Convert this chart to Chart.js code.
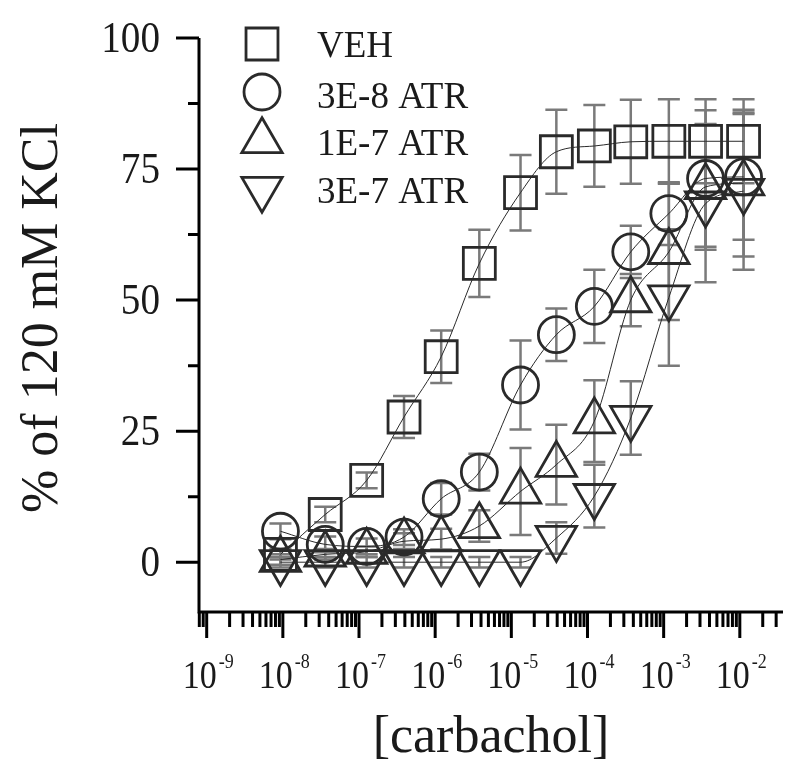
<!DOCTYPE html>
<html>
<head>
<meta charset="utf-8">
<script src="https://cdn.jsdelivr.net/npm/chart.js@4.4.1/dist/chart.umd.min.js"></script>
<style>
  html, body { margin: 0; padding: 0; background: #fff; overflow: hidden; }
  canvas { display: block; }
</style>
</head>
<body>
<canvas id="chart" width="800" height="784"></canvas>
<script>
// carbachol concentrations (M)
const conc = [9.3e-9, 3.6e-8, 1.26e-7, 3.9e-7, 1.2e-6, 3.8e-6, 1.32e-5, 3.9e-5, 1.23e-4, 3.7e-4, 1.17e-3, 3.55e-3, 1.12e-2];

const seriesNames = ['VEH', '3E-8 ATR', '1E-7 ATR', '3E-7 ATR'];

const vehVals   = [1.5, 9.1, 15.6, 27.7, 39.2, 57.0, 70.5, 78.3, 79.4, 80.2, 80.3, 80.3, 80.3];
const atr3e8    = [5.9, 3.4, 3.0, 4.8, 12.1, 17.2, 33.8, 43.4, 48.8, 59.2, 66.5, 73.2, 73.5];
const atr1e7    = [0.5, 1.5, 2.0, 4.0, 4.4, 6.9, 13.5, 18.6, 26.9, 50.0, 59.2, 71.6, 72.3];
const atr3e7    = [0, 0, 0, 0, 0, 0, 0, 4.6, 12.6, 27.5, 50.5, 68.4, 70.8];

const vehErr    = [1, 1.5, 1.5, 4, 5, 6.4, 7.2, 8, 7.8, 8, 8, 8, 8];
const atr3e8Err = [1.5, 1.5, 1.5, 1.5, 3, 3.5, 8.5, 5, 7, 5, 6, 13, 12];
const atr1e7Err = [1, 1, 1, 1.5, 2, 3, 8.3, 7.6, 7.8, 5, 13, 12, 14];
const atr3e7Err = [1, 1, 1, 1, 1, 1, 1, 3, 6, 7, 13, 15, 15];

const xExponents = [-9, -8, -7, -6, -5, -4, -3, -2];
const yTickVals = [0, 25, 50, 75, 100];

const allVals = [vehVals, atr3e8, atr1e7, atr3e7];
const allErrs = [vehErr, atr3e8Err, atr1e7Err, atr3e7Err];

const SERIF = '"Liberation Serif", "Times New Roman", serif';
const INK = '#2a2a2a';

const markers = [
  { style: 'rect', radius: 22.6, rotation: 0 },
  { style: 'circle', radius: 18, rotation: 0 },
  { style: 'triangle', radius: 23.3, rotation: 0 },
  { style: 'triangle', radius: 23.3, rotation: 180 }
];

// same geometry as chart.js point styles, used for the legend
function drawMarker(ctx, m, x, y) {
  ctx.beginPath();
  if (m.style === 'rect') {
    const s = Math.SQRT1_2 * m.radius;
    ctx.rect(x - s, y - s, 2 * s, 2 * s);
  } else if (m.style === 'circle') {
    ctx.arc(x, y, m.radius, 0, Math.PI * 2);
  } else {
    let rad = m.rotation * Math.PI / 180;
    ctx.moveTo(x + Math.sin(rad) * m.radius, y - Math.cos(rad) * m.radius);
    for (let k = 0; k < 2; k++) {
      rad += 2 * Math.PI / 3;
      ctx.lineTo(x + Math.sin(rad) * m.radius, y - Math.cos(rad) * m.radius);
    }
    ctx.closePath();
  }
  ctx.stroke();
}

// narrow text like the scanned figure
function squeezedText(ctx, txt, x, y, sx) {
  ctx.save();
  ctx.translate(x, y);
  ctx.scale(sx, 1);
  ctx.fillText(txt, 0, 0);
  ctx.restore();
}

const customAxes = {
  id: 'customAxes',
  beforeDatasetsDraw(chart) {
    const { ctx, scales: { x, y } } = chart;
    ctx.save();
    ctx.strokeStyle = '#7a7a7a';
    ctx.lineWidth = 2.5;
    allVals.forEach((vals, i) => {
      vals.forEach((v, j) => {
        const e = allErrs[i][j];
        const px = x.getPixelForValue(conc[j]);
        const top = y.getPixelForValue(v + e);
        const bot = y.getPixelForValue(v - e);
        ctx.beginPath();
        ctx.moveTo(px, top); ctx.lineTo(px, bot);
        ctx.moveTo(px - 11, top); ctx.lineTo(px + 11, top);
        ctx.moveTo(px - 11, bot); ctx.lineTo(px + 11, bot);
        ctx.stroke();
      });
    });
    ctx.restore();
  },
  afterDraw(chart) {
    const { ctx, chartArea: a, scales: { x, y } } = chart;
    ctx.save();
    ctx.strokeStyle = '#000';
    ctx.fillStyle = '#1a1a1a';
    ctx.lineWidth = 3;

    // axis lines
    ctx.beginPath();
    ctx.moveTo(a.left, a.top); ctx.lineTo(a.left, a.bottom + 1.5);
    ctx.moveTo(a.left - 1.5, a.bottom); ctx.lineTo(a.right, a.bottom);
    ctx.stroke();

    // y ticks
    ctx.beginPath();
    yTickVals.forEach(v => {
      const py = y.getPixelForValue(v);
      ctx.moveTo(a.left - 23, py); ctx.lineTo(a.left, py);
      const mv = v + 12.5;
      if (mv < 100) {
        const pm = y.getPixelForValue(mv);
        ctx.moveTo(a.left - 11, pm); ctx.lineTo(a.left, pm);
      }
    });
    ctx.stroke();

    ctx.font = '45px ' + SERIF;
    ctx.textAlign = 'right';
    ctx.textBaseline = 'alphabetic';
    yTickVals.forEach(v => {
      squeezedText(ctx, String(v), a.left - 39, y.getPixelForValue(v) + 14, 0.87);
    });

    // x ticks (log)
    ctx.beginPath();
    for (let e = -10; e <= -1; e++) {
      for (let k = 1; k <= 9; k++) {
        const val = k * Math.pow(10, e);
        const px = x.getPixelForValue(val);
        if (px < a.left - 0.5 || px > a.right + 0.5) continue;
        ctx.moveTo(px, a.bottom);
        ctx.lineTo(px, a.bottom + (k === 1 ? 26 : 15));
      }
    }
    ctx.stroke();

    xExponents.forEach(e => {
      const px = x.getPixelForValue(Math.pow(10, e));
      ctx.font = '40px ' + SERIF;
      ctx.textAlign = 'center';
      squeezedText(ctx, '10', px - 7, 688, 0.85);
      ctx.font = '20px ' + SERIF;
      ctx.textAlign = 'left';
      squeezedText(ctx, String(e), px + 12, 668, 0.9);
    });

    // titles
    ctx.font = '52px ' + SERIF;
    ctx.textAlign = 'center';
    ctx.fillText('[carbachol]', 491, 752);
    ctx.save();
    ctx.translate(57, 318);
    ctx.rotate(-Math.PI / 2);
    ctx.fillText('% of 120 mM KCl', 0, 0);
    ctx.restore();

    // legend
    const legendY = [44, 92, 141, 189];
    const textY = [44, 95, 142, 190];
    ctx.strokeStyle = INK;
    ctx.lineWidth = 2.8;
    ctx.font = '37px ' + SERIF;
    ctx.textAlign = 'left';
    seriesNames.forEach((name, i) => {
      drawMarker(ctx, markers[i], 262, legendY[i]);
      ctx.fillText(name, 317, textY[i] + 12.5);
    });
    ctx.restore();
  }
};

const datasets = allVals.map((vals, i) => ({
  label: seriesNames[i],
  data: vals.map((v, j) => ({ x: conc[j], y: v })),
  showLine: true,
  borderColor: INK,
  borderWidth: 1,
  cubicInterpolationMode: 'monotone',
  pointStyle: markers[i].style,
  pointRadius: markers[i].radius,
  pointRotation: markers[i].rotation,
  pointBorderColor: INK,
  pointBorderWidth: 2.8,
  pointBackgroundColor: 'rgba(0,0,0,0)',
  pointHoverRadius: markers[i].radius
}));

new Chart(document.getElementById('chart'), {
  type: 'scatter',
  data: { datasets },
  options: {
    responsive: false,
    animation: false,
    devicePixelRatio: 1,
    layout: { autoPadding: false, padding: { left: 199, right: 17, top: 38, bottom: 172 } },
    plugins: { legend: { display: false }, tooltip: { enabled: false } },
    scales: {
      x: { type: 'logarithmic', min: Math.pow(10, -9.101), max: Math.pow(10, -1.433), display: false },
      y: { type: 'linear', min: -9.5, max: 100, display: false }
    }
  },
  plugins: [customAxes]
});
</script>
</body>
</html>
